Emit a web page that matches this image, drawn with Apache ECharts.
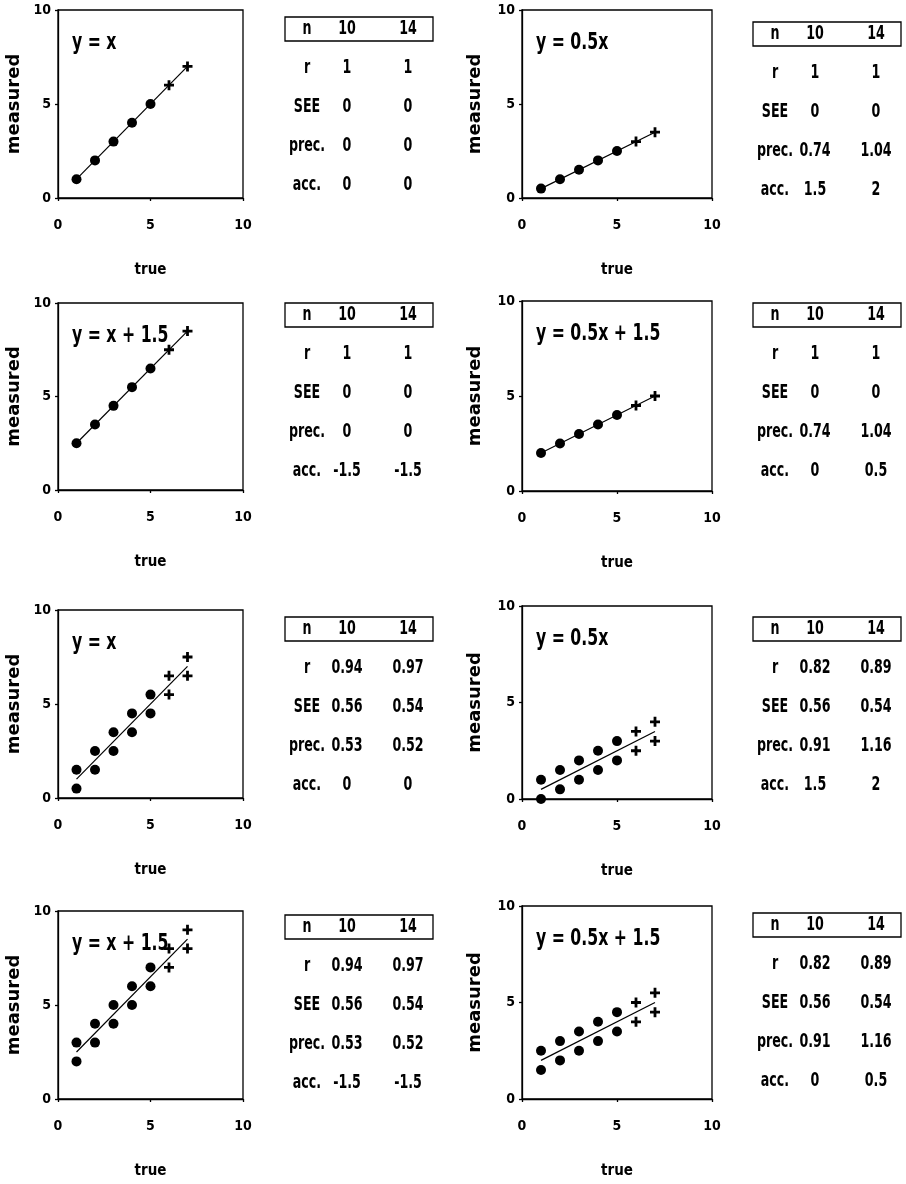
<!DOCTYPE html>
<html>
<head>
<meta charset="utf-8">
<script src="https://cdn.jsdelivr.net/npm/echarts@6/dist/echarts.min.js"></script>
<style>
  html, body { margin: 0; padding: 0; background: #fff; }
  #chart { width: 906px; height: 1184px; }
</style>
</head>
<body>
<div id="chart"></div>
<script>
// ---- data ----
const axisTicks = [0, 5, 10];
const equations = ['y = x', 'y = 0.5x', 'y = x + 1.5', 'y = 0.5x + 1.5',
                   'y = x', 'y = 0.5x', 'y = x + 1.5', 'y = 0.5x + 1.5'];

// n = 10 points (dots) and the 4 extra points of n = 14 (crosses)
const dots1 = [[1, 1], [2, 2], [3, 3], [4, 4], [5, 5]];
const plus1 = [[6, 6], [7, 7]];
const fit1 = [[1, 1], [7, 7]];

const dots2 = [[1, 0.5], [2, 1], [3, 1.5], [4, 2], [5, 2.5]];
const plus2 = [[6, 3], [7, 3.5]];
const fit2 = [[1, 0.5], [7, 3.5]];

const dots3 = [[1, 2.5], [2, 3.5], [3, 4.5], [4, 5.5], [5, 6.5]];
const plus3 = [[6, 7.5], [7, 8.5]];
const fit3 = [[1, 2.5], [7, 8.5]];

const dots4 = [[1, 2], [2, 2.5], [3, 3], [4, 3.5], [5, 4]];
const plus4 = [[6, 4.5], [7, 5]];
const fit4 = [[1, 2], [7, 5]];

const dots5 = [[1, 1.5], [1, 0.5], [2, 2.5], [2, 1.5], [3, 3.5], [3, 2.5], [4, 4.5], [4, 3.5], [5, 5.5], [5, 4.5]];
const plus5 = [[6, 6.5], [6, 5.5], [7, 7.5], [7, 6.5]];
const fit5 = [[1, 1], [7, 7]];

const dots6 = [[1, 1], [1, 0], [2, 1.5], [2, 0.5], [3, 2], [3, 1], [4, 2.5], [4, 1.5], [5, 3], [5, 2]];
const plus6 = [[6, 3.5], [6, 2.5], [7, 4], [7, 3]];
const fit6 = [[1, 0.5], [7, 3.5]];

const dots7 = [[1, 3], [1, 2], [2, 4], [2, 3], [3, 5], [3, 4], [4, 6], [4, 5], [5, 7], [5, 6]];
const plus7 = [[6, 8], [6, 7], [7, 9], [7, 8]];
const fit7 = [[1, 2.5], [7, 8.5]];

const dots8 = [[1, 2.5], [1, 1.5], [2, 3], [2, 2], [3, 3.5], [3, 2.5], [4, 4], [4, 3], [5, 4.5], [5, 3.5]];
const plus8 = [[6, 5], [6, 4], [7, 5.5], [7, 4.5]];
const fit8 = [[1, 2], [7, 5]];

// statistics tables: rows r, SEE, prec., acc.; columns n = 10, n = 14
const statNames = ['r', 'SEE', 'prec.', 'acc.'];
const sampleSizes = ['10', '14'];
const stats1 = [['1', '1'], ['0', '0'], ['0', '0'], ['0', '0']];
const stats2 = [['1', '1'], ['0', '0'], ['0.74', '1.04'], ['1.5', '2']];
const stats3 = [['1', '1'], ['0', '0'], ['0', '0'], ['-1.5', '-1.5']];
const stats4 = [['1', '1'], ['0', '0'], ['0.74', '1.04'], ['0', '0.5']];
const stats5 = [['0.94', '0.97'], ['0.56', '0.54'], ['0.53', '0.52'], ['0', '0']];
const stats6 = [['0.82', '0.89'], ['0.56', '0.54'], ['0.91', '1.16'], ['1.5', '2']];
const stats7 = [['0.94', '0.97'], ['0.56', '0.54'], ['0.53', '0.52'], ['-1.5', '-1.5']];
const stats8 = [['0.82', '0.89'], ['0.56', '0.54'], ['0.91', '1.16'], ['0', '0.5']];

const dotSets = [dots1, dots2, dots3, dots4, dots5, dots6, dots7, dots8];
const plusSets = [plus1, plus2, plus3, plus4, plus5, plus6, plus7, plus8];
const fitSets = [fit1, fit2, fit3, fit4, fit5, fit6, fit7, fit8];
const statSets = [stats1, stats2, stats3, stats4, stats5, stats6, stats7, stats8];

// ---- layout ----
// plot boxes: [left, top, width, height]
const boxes = [
  [58, 10, 185, 188], [522, 10, 190, 188],
  [58, 303, 185, 187], [522, 301, 190, 190],
  [58, 610, 185, 188], [522, 606, 190, 193],
  [58, 911, 185, 188], [522, 906, 190, 193]
];
// statistics table frame: [left, top]
const tableFrames = [
  [285, 17], [753, 22],
  [285, 303], [753, 303],
  [285, 617], [753, 617],
  [285, 915], [753, 913]
];

const NARROW = "'DejaVu Sans Condensed', 'Liberation Sans Narrow', sans-serif";
const WIDE = "'DejaVu Sans', sans-serif";

const plusPath = 'path://M3.6,0H6.4V3.6H10V6.4H6.4V10H3.6V6.4H0V3.6H3.6Z';

const grids = [], xAxes = [], yAxes = [], series = [], graphics = [];

boxes.forEach(function (b, i) {
  grids.push({
    left: b[0], top: b[1], width: b[2], height: b[3],
    show: true, borderColor: '#000', borderWidth: 1.3, backgroundColor: 'transparent'
  });
  const axisLabelBase = { color: '#000', fontFamily: NARROW, fontWeight: 'bold', fontSize: 14 };
  xAxes.push({
    gridIndex: i, type: 'value', min: axisTicks[0], max: axisTicks[2], interval: axisTicks[1],
    axisLine: { show: true, lineStyle: { color: '#000', width: 1.3 } },
    axisTick: { show: true, length: 3, lineStyle: { color: '#000', width: 1.3 } },
    splitLine: { show: false },
    axisLabel: Object.assign({ margin: 20 }, axisLabelBase),
    name: 'true', nameLocation: 'middle', nameGap: 65,
    nameTextStyle: { color: '#000', fontFamily: NARROW, fontWeight: 'bold', fontSize: 15 }
  });
  yAxes.push({
    gridIndex: i, type: 'value', min: axisTicks[0], max: axisTicks[2], interval: axisTicks[1],
    axisLine: { show: true, lineStyle: { color: '#000', width: 1.3 } },
    axisTick: { show: true, length: 3, lineStyle: { color: '#000', width: 1.3 } },
    splitLine: { show: false },
    axisLabel: Object.assign({ margin: 7 }, axisLabelBase),
    name: 'measured', nameLocation: 'middle', nameGap: (i % 2 === 0) ? 35 : 38,
    nameTextStyle: { color: '#000', fontFamily: WIDE, fontWeight: 'bold', fontSize: 18 }
  });

  series.push({
    type: 'line', xAxisIndex: i, yAxisIndex: i, data: fitSets[i],
    showSymbol: false, symbol: 'none', silent: true, z: 2,
    lineStyle: { color: '#000', width: 1.2 }
  });
  series.push({
    type: 'scatter', xAxisIndex: i, yAxisIndex: i, data: dotSets[i],
    symbol: 'circle', symbolSize: 10, silent: true, z: 3,
    itemStyle: { color: '#000', opacity: 1 }
  });
  series.push({
    type: 'scatter', xAxisIndex: i, yAxisIndex: i, data: plusSets[i],
    symbol: plusPath, symbolSize: 10, silent: true, z: 3,
    itemStyle: { color: '#000', opacity: 1 }
  });

  // equation label inside the plot box
  graphics.push({
    type: 'text', x: b[0] + 14, y: b[1] + 33, scaleX: 0.76,
    style: { text: equations[i], fill: '#000', font: 'bold 23px ' + NARROW, align: 'left', verticalAlign: 'middle' }
  });

  // statistics table
  const tf = tableFrames[i];
  const tw = 148, rowGap = 39;
  const colX = [tf[0] + 22, tf[0] + 62, tf[0] + 123];
  graphics.push({
    type: 'rect', shape: { x: tf[0], y: tf[1], width: tw, height: 24 },
    style: { fill: 'none', stroke: '#000', lineWidth: 1.3 }
  });
  const headY = tf[1] + 12;
  const headRow = ['n'].concat(sampleSizes);
  const cellText = function (t, x, y) {
    return {
      type: 'text', x: x, y: y, scaleX: 0.74,
      style: { text: t, fill: '#000', font: 'bold 19px ' + NARROW, align: 'center', verticalAlign: 'middle' }
    };
  };
  headRow.forEach(function (t, c) {
    graphics.push(cellText(t, colX[c], headY));
  });
  statNames.forEach(function (name, r) {
    const y = headY + rowGap * (r + 1);
    const cells = [name].concat(statSets[i][r]);
    cells.forEach(function (t, c) {
      graphics.push(cellText(t, colX[c], y));
    });
  });
});

const chart = echarts.init(document.getElementById('chart'), null, { renderer: 'canvas' });
chart.setOption({
  animation: false,
  backgroundColor: '#fff',
  grid: grids,
  xAxis: xAxes,
  yAxis: yAxes,
  series: series,
  graphic: graphics
});
</script>
</body>
</html>
